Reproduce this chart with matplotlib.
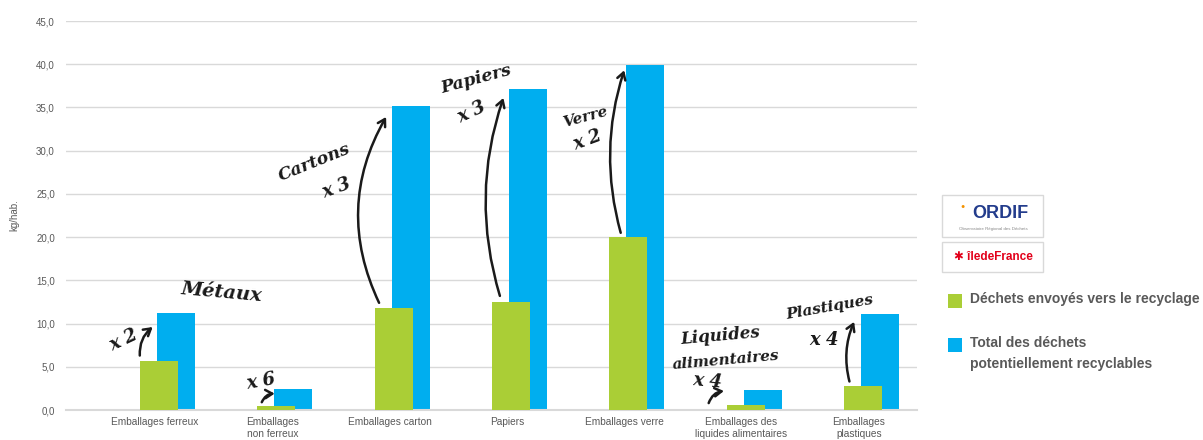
import matplotlib.pyplot as plt
import matplotlib.patches as mpatches
import numpy as np

# data (kg/hab.)
categories = ["Emballages ferreux", "Emballages\nnon ferreux", "Emballages carton",
              "Papiers", "Emballages verre", "Emballages des\nliquides alimentaires",
              "Emballages\nplastiques"]
recycles = [5.7, 0.5, 11.8, 12.5, 20.0, 0.6, 2.8]
potentiels = [11.2, 2.4, 35.2, 37.1, 39.9, 2.3, 11.1]
y_ticks = np.arange(0, 50, 5)
legend_labels = ["Déchets envoyés vers le recyclage",
                 "Total des déchets\npotentiellement recyclables"]

# handwritten notes: text, x, y, rotation, size
notes = [
    ("Métaux", 0.57, 13.6, -5, 14),
    ("x 2", -0.27, 8.1, 25, 13),
    ("x 6", 0.90, 3.3, 10, 13),
    ("Cartons", 1.36, 28.6, 22, 12.5),
    ("x 3", 1.55, 25.7, 20, 13),
    ("Papiers", 2.74, 38.2, 15, 12.5),
    ("x 3", 2.70, 34.4, 25, 13),
    ("Verre", 3.67, 33.9, 15, 11),
    ("x 2", 3.69, 31.2, 20, 13),
    ("Liquides", 4.82, 8.5, 5, 12),
    ("alimentaires", 4.87, 5.8, 5, 11),
    ("x 4", 4.71, 3.3, -5, 13),
    ("Plastiques", 5.75, 11.9, 10, 11),
    ("x 4", 5.70, 8.1, 0, 13),
]
# arrows: start (x, y), end (x, y), curvature
arrows = [
    ((-0.13, 6.3), (-0.02, 9.6), -0.25),
    ((0.91, 0.9), (1.02, 1.9), -0.3),
    ((1.91, 12.4), (1.97, 33.9), -0.26),
    ((2.94, 13.2), (2.97, 36.1), -0.16),
    ((3.97, 20.5), (4.00, 39.3), -0.15),
    ((4.72, 0.8), (4.85, 2.2), -0.3),
    ((5.92, 3.3), (5.96, 10.2), -0.17),
]

green = "#AACE36"
blue = "#00AEEF"
grey = "#595959"

plt.rcParams['font.family'] = ['Liberation Sans', 'DejaVu Sans']

fig = plt.figure(figsize=(12.03, 4.40), dpi=100)
ax = fig.add_axes([66 / 1203, 30 / 440, (917 - 66) / 1203, 389 / 440])

x = np.arange(len(categories))
w = 0.324
ax.bar(x + 0.179, potentiels, width=w, color=blue, zorder=2)
ax.bar(x + 0.034, recycles, width=w, color=green, zorder=3)

ax.set_xlim(-0.759, 6.496)
ax.set_ylim(0, 45)
ax.set_yticks(y_ticks)
ax.set_yticklabels([f"{v:.1f}".replace(".", ",") for v in y_ticks])
ax.set_xticks(x)
ax.set_xticklabels(categories)
ax.tick_params(axis="y", length=0, pad=8, labelsize=7, labelcolor=grey)
ax.tick_params(axis="x", length=0, pad=5, labelsize=7.3, labelcolor=grey)
ax.grid(axis="y", color="#d9d9d9", linewidth=1, zorder=0)
for s in ["top", "right", "left"]:
    ax.spines[s].set_visible(False)
ax.spines["bottom"].set_color("#d9d9d9")
ax.spines["bottom"].set_linewidth(1.5)
ax.set_ylabel("kg/hab.", fontsize=7, color=grey)
ax.yaxis.set_label_coords(-0.055, 0.5)

# handwritten-like notes
for txt, tx, ty, rot, size in notes:
    ax.text(tx, ty, txt, rotation=rot, fontsize=size, ha="center", va="center",
            family="DejaVu Serif", style="italic", weight="bold", color="#1a1a1a", zorder=5)
for (sx, sy), (ex, ey), rad in arrows:
    ax.annotate("", xy=(ex, ey), xytext=(sx, sy), zorder=5,
                arrowprops=dict(arrowstyle="->,head_length=0.5,head_width=0.3", color="#1a1a1a",
                                lw=1.8, connectionstyle=f"arc3,rad={rad}",
                                shrinkA=0, shrinkB=0))

# legend, drawn by hand to keep the reference spacing
for (py, color, label) in [(301, green, legend_labels[0]), (345, blue, legend_labels[1])]:
    fig.patches.append(mpatches.Rectangle((948 / 1203, 1 - (py + 7) / 440), 14 / 1203, 14 / 440,
                                          transform=fig.transFigure, facecolor=color,
                                          edgecolor="none"))
    fig.text(970 / 1203, 1 - (py - 9) / 440, label, fontsize=10, weight="bold", color=grey,
             ha="left", va="top", linespacing=1.6)

# logos
fig.patches.append(mpatches.Rectangle((942 / 1203, 1 - 237 / 440), 101 / 1203, 42 / 440,
                                      transform=fig.transFigure, facecolor="white",
                                      edgecolor="#d9d9d9", lw=1))
fig.patches.append(mpatches.Rectangle((942 / 1203, 1 - 272 / 440), 101 / 1203, 30 / 440,
                                      transform=fig.transFigure, facecolor="white",
                                      edgecolor="#d9d9d9", lw=1))
fig.text(1000 / 1203, 1 - 214 / 440, "ORDIF", fontsize=13, weight="bold", color="#233C8C",
         ha="center", va="center")
fig.text(963 / 1203, 1 - 206 / 440, "●", fontsize=5, color="#F39200", ha="center", va="center")
fig.text(993 / 1203, 1 - 229 / 440, "Observatoire Régional des Déchets", fontsize=3.2,
         color="#888888", ha="center", va="center")
fig.text(993 / 1203, 1 - 257 / 440, "✱ îledeFrance", fontsize=8.5, weight="bold",
         color="#E2001A", ha="center", va="center")

fig.savefig("out.png", dpi=100)
